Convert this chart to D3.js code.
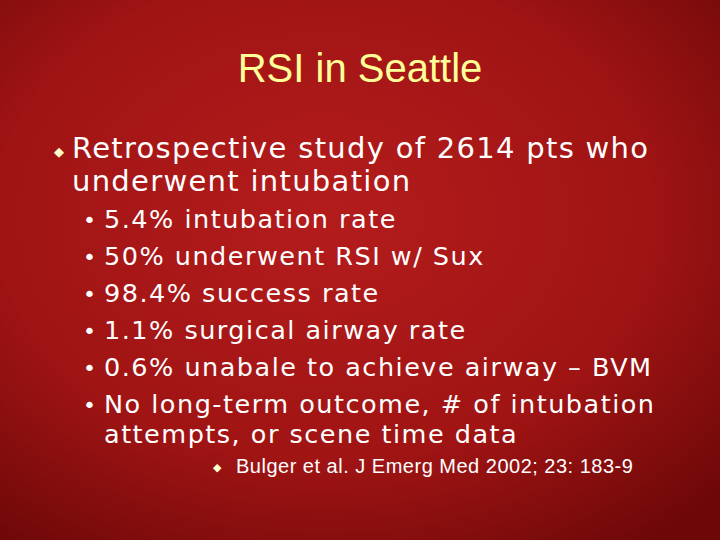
<!DOCTYPE html>
<html><head><meta charset="utf-8">
<script src="https://cdn.jsdelivr.net/npm/d3@7"></script>
<style>body{margin:0;background:#8a0f0f}</style></head>
<body><svg id="s" width="720" height="540"></svg>
<script>
const title = "RSI in Seattle";
const mainLines = ["Retrospective study of 2614 pts who", "underwent intubation"];
const subBullets = [
  ["5.4% intubation rate"],
  ["50% underwent RSI w/ Sux"],
  ["98.4% success rate"],
  ["1.1% surgical airway rate"],
  ["0.6% unabale to achieve airway – BVM"],
  ["No long-term outcome, # of intubation", "attempts, or scene time data"]
];
const reference = "Bulger et al. J Emerg Med 2002; 23: 183-9";

const svg = d3.select("#s");
const defs = svg.append("defs");
const g = defs.append("radialGradient").attr("id","bg").attr("cx","45%").attr("cy","40%").attr("r","75%");
g.append("stop").attr("offset","0%").attr("stop-color","#b41c1c");
g.append("stop").attr("offset","60%").attr("stop-color","#a01414");
g.append("stop").attr("offset","100%").attr("stop-color","#6e0808");
svg.append("rect").attr("width",720).attr("height",540).attr("fill","url(#bg)");

svg.append("text").attr("x",360).attr("y",82).attr("text-anchor","middle")
  .attr("font-family","Liberation Sans, Arial").attr("font-size",40).attr("fill","#ffff99").text(title);

const body = "'DejaVu Sans', Verdana, sans-serif";
svg.append("text").attr("x",54).attr("y",156).attr("font-size",13).attr("fill","#ffffcc").text("◆");
svg.selectAll(".m").data(mainLines).join("text").attr("x",72).attr("y",(d,i)=>158+i*33)
  .attr("font-family",body).attr("font-size",29).attr("letter-spacing",1.3).attr("fill","#fff").text(d=>d);

let y = 228;
subBullets.forEach(lines=>{
  svg.append("text").attr("x",83).attr("y",y).attr("font-family",body).attr("font-size",22).attr("fill","#fff").text("•");
  lines.forEach((l,j)=>{
    svg.append("text").attr("x",104).attr("y",y+j*30).attr("font-family",body).attr("font-size",25.5).attr("letter-spacing",1.5).attr("fill","#fff").text(l);
  });
  y += 37 + (lines.length-1)*30;
});

svg.append("text").attr("x",213).attr("y",471).attr("font-size",11).attr("fill","#ffffcc").text("◆");
svg.append("text").attr("x",236).attr("y",473).attr("font-family","Liberation Sans, Arial").attr("font-size",20).attr("letter-spacing",0.5).attr("fill","#fff").text(reference);
</script></body></html>
